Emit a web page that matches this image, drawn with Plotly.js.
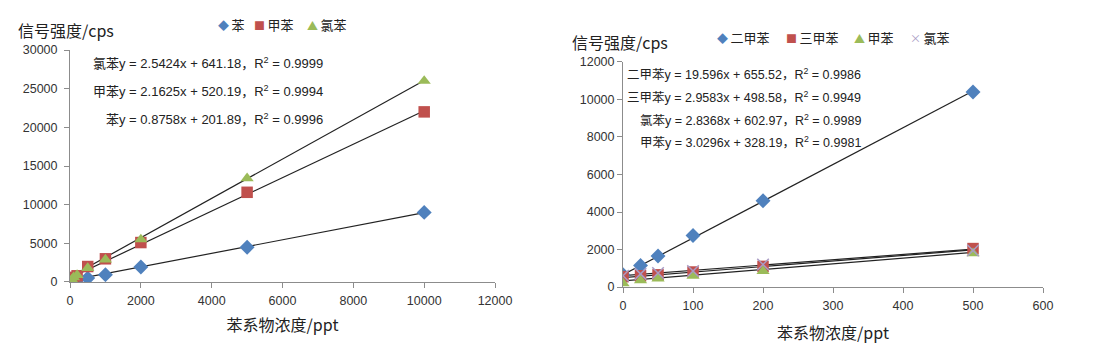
<!DOCTYPE html>
<html><head><meta charset="utf-8">
<script src="https://cdn.plot.ly/plotly-3.0.1.min.js"></script>
<style>html,body{margin:0;padding:0;background:#fff}#c{width:1094px;height:364px}</style>
</head><body><div id="c"></div>
<script>
// ---- Left chart data ----
const xLeft = [0, 50, 100, 200, 500, 1000, 2000, 5000, 10000];
const benzene = [50, 100, 150, 250, 500, 950, 1950, 4500, 9000];
const tolueneL = [350, 500, 600, 800, 2000, 3000, 5100, 11600, 22000];
const chlorobenzeneL = [100, 300, 600, 900, 1800, 2900, 5500, 13400, 26000];
const namesLeft = ['苯', '甲苯', '氯苯'];
const slopesLeft = [0.8758, 2.1625, 2.5424];
const interceptsLeft = [201.89, 520.19, 641.18];
const eqLeft = ['氯苯y = 2.5424x + 641.18，R<sup>2</sup> = 0.9999', '甲苯y = 2.1625x + 520.19，R<sup>2</sup> = 0.9994', '苯y = 0.8758x + 201.89，R<sup>2</sup> = 0.9996'];
const xTicksLeft = [0, 2000, 4000, 6000, 8000, 10000, 12000];
const yTicksLeft = [0, 5000, 10000, 15000, 20000, 25000, 30000];

// ---- Right chart data ----
const xRight = [0, 25, 50, 100, 200, 500];
const xylene = [650, 1150, 1650, 2750, 4600, 10400];
const trimethylbenzene = [550, 600, 650, 800, 1100, 2050];
const tolueneR = [200, 350, 450, 600, 850, 1800];
const chlorobenzeneR = [600, 700, 750, 850, 1200, 1950];
const namesRight = ['二甲苯', '三甲苯', '甲苯', '氯苯'];
const slopesRight = [19.596, 2.9583, 3.0296, 2.8368];
const interceptsRight = [655.52, 498.58, 328.19, 602.97];
const eqRight = ['二甲苯y = 19.596x + 655.52，R<sup>2</sup> = 0.9986', '三甲苯y = 2.9583x + 498.58，R<sup>2</sup> = 0.9949', '氯苯y = 2.8368x + 602.97，R<sup>2</sup> = 0.9989', '甲苯y = 3.0296x + 328.19，R<sup>2</sup> = 0.9981'];
const xTicksRight = [0, 100, 200, 300, 400, 500, 600];
const yTicksRight = [0, 2000, 4000, 6000, 8000, 10000, 12000];

const axisTitle = '苯系物浓度/ppt';
const yTitle = '信号强度/cps';

const colors = ['#4F81BD', '#C0504D', '#9BBB59', '#A99BC4'];
const legendGlyphs = ['◆', '■', '▲', '×'];
const FONT = 'Liberation Sans, Noto Sans CJK SC, sans-serif';
const CJK = 'Noto Sans CJK SC, sans-serif';

const traces = [];
function fitLine(xs, m, b, xa, ya) {
  const x0 = Math.min(...xs), x1 = Math.max(...xs);
  return {x: [x0, x1], y: [m * x0 + b, m * x1 + b], mode: 'lines', xaxis: xa, yaxis: ya,
    line: {color: '#222', width: 1.2}, showlegend: false, hoverinfo: 'skip'};
}
for (let i = 0; i < 3; i++) traces.push(fitLine(xLeft, slopesLeft[i], interceptsLeft[i], 'x', 'y'));
for (let i = 0; i < 4; i++) traces.push(fitLine(xRight, slopesRight[i], interceptsRight[i], 'x2', 'y2'));

const leftSeries = [benzene, tolueneL, chlorobenzeneL];
const leftSymbols = ['diamond', 'square', 'triangle-up'];
leftSeries.forEach((ys, i) => traces.push({x: xLeft, y: ys, name: namesLeft[i], mode: 'markers', xaxis: 'x', yaxis: 'y', showlegend: false,
  marker: {symbol: leftSymbols[i], color: colors[i], size: 11.5, line: {width: 0}}}));

const rightSeries = [xylene, trimethylbenzene, tolueneR, chlorobenzeneR];
const rightSymbols = ['diamond', 'square', 'triangle-up', 'x-thin'];
rightSeries.forEach((ys, i) => traces.push({x: xRight, y: ys, name: namesRight[i], mode: 'markers', xaxis: 'x2', yaxis: 'y2', showlegend: false,
  marker: {symbol: rightSymbols[i], color: colors[i], size: 11.5, line: i === 3 ? {color: colors[i], width: 1.5} : {width: 0}}}));

const axBase = {showgrid: false, zeroline: false, showline: true, linecolor: '#8C8C8C', linewidth: 1, tickformat: 'd',
  ticks: 'outside', tickcolor: '#8C8C8C', ticklen: 5, tickfont: {family: FONT, size: 12.5, color: '#333'}};

const layout = {
  width: 1094, height: 364, margin: {l: 0, r: 0, t: 0, b: 0}, showlegend: false,
  paper_bgcolor: '#fff', plot_bgcolor: '#fff', font: {family: FONT},
  xaxis: Object.assign({}, axBase, {domain: [0.064, 0.4525], range: [0, 12000], tickvals: xTicksLeft, anchor: 'y', ticklabelstandoff: 2,
    title: {text: axisTitle, font: {family: CJK, size: 16, color: '#222'}, standoff: 12}}),
  yaxis: Object.assign({}, axBase, {domain: [0.2253, 0.8626], range: [0, 30000], tickvals: yTicksLeft, anchor: 'x', ticklabelstandoff: 4}),
  xaxis2: Object.assign({}, axBase, {domain: [0.5695, 0.9534], range: [0, 600], tickvals: xTicksRight, anchor: 'y2', ticklabelstandoff: 2,
    title: {text: axisTitle, font: {family: CJK, size: 16, color: '#222'}, standoff: 15}}),
  yaxis2: Object.assign({}, axBase, {domain: [0.2115, 0.8297], range: [0, 12000], tickvals: yTicksRight, anchor: 'x2'}),
  annotations: []
};
const ann = layout.annotations;
ann.push({text: yTitle, xref: 'paper', yref: 'paper', x: 16 / 1094, y: 1 - 30 / 364, xanchor: 'left', yanchor: 'middle',
  showarrow: false, font: {family: CJK, size: 16, color: '#222'}});
ann.push({text: yTitle, xref: 'paper', yref: 'paper', x: 570 / 1094, y: 1 - 42 / 364, xanchor: 'left', yanchor: 'middle',
  showarrow: false, font: {family: CJK, size: 16, color: '#222'}});
const eqYLeft = [63, 91, 119];
eqLeft.forEach((t, i) => ann.push({text: t, xref: 'paper', yref: 'paper', x: 325 / 1094, y: 1 - eqYLeft[i] / 364,
  xanchor: 'right', yanchor: 'middle', showarrow: false, font: {family: FONT, size: 13, color: '#222'}}));
const eqYRight = [74, 97, 120, 142];
eqRight.forEach((t, i) => ann.push({text: t, xref: 'paper', yref: 'paper', x: 863 / 1094, y: 1 - eqYRight[i] / 364,
  xanchor: 'right', yanchor: 'middle', showarrow: false, font: {family: FONT, size: 12.5, color: '#222'}}));

// legends drawn as text items
const legLeftX = [216, 252, 305];
namesLeft.forEach((n, i) => ann.push({text: '<span style="color:' + colors[i] + ';font-size:11px">' + legendGlyphs[i] + ' </span>' + n,
  xref: 'paper', yref: 'paper', x: legLeftX[i] / 1094, y: 1 - 25 / 364, xanchor: 'left', yanchor: 'middle', showarrow: false,
  font: {family: CJK, size: 13, color: '#222'}}));
const legRightX = [715, 784, 852, 908];
namesRight.forEach((n, i) => ann.push({text: '<span style="color:' + colors[i] + ';font-size:11px">' + legendGlyphs[i] + ' </span>' + n,
  xref: 'paper', yref: 'paper', x: legRightX[i] / 1094, y: 1 - 38 / 364, xanchor: 'left', yanchor: 'middle', showarrow: false,
  font: {family: CJK, size: 13, color: '#222'}}));

Plotly.newPlot('c', traces, layout, {staticPlot: true, displayModeBar: false});
</script></body></html>
